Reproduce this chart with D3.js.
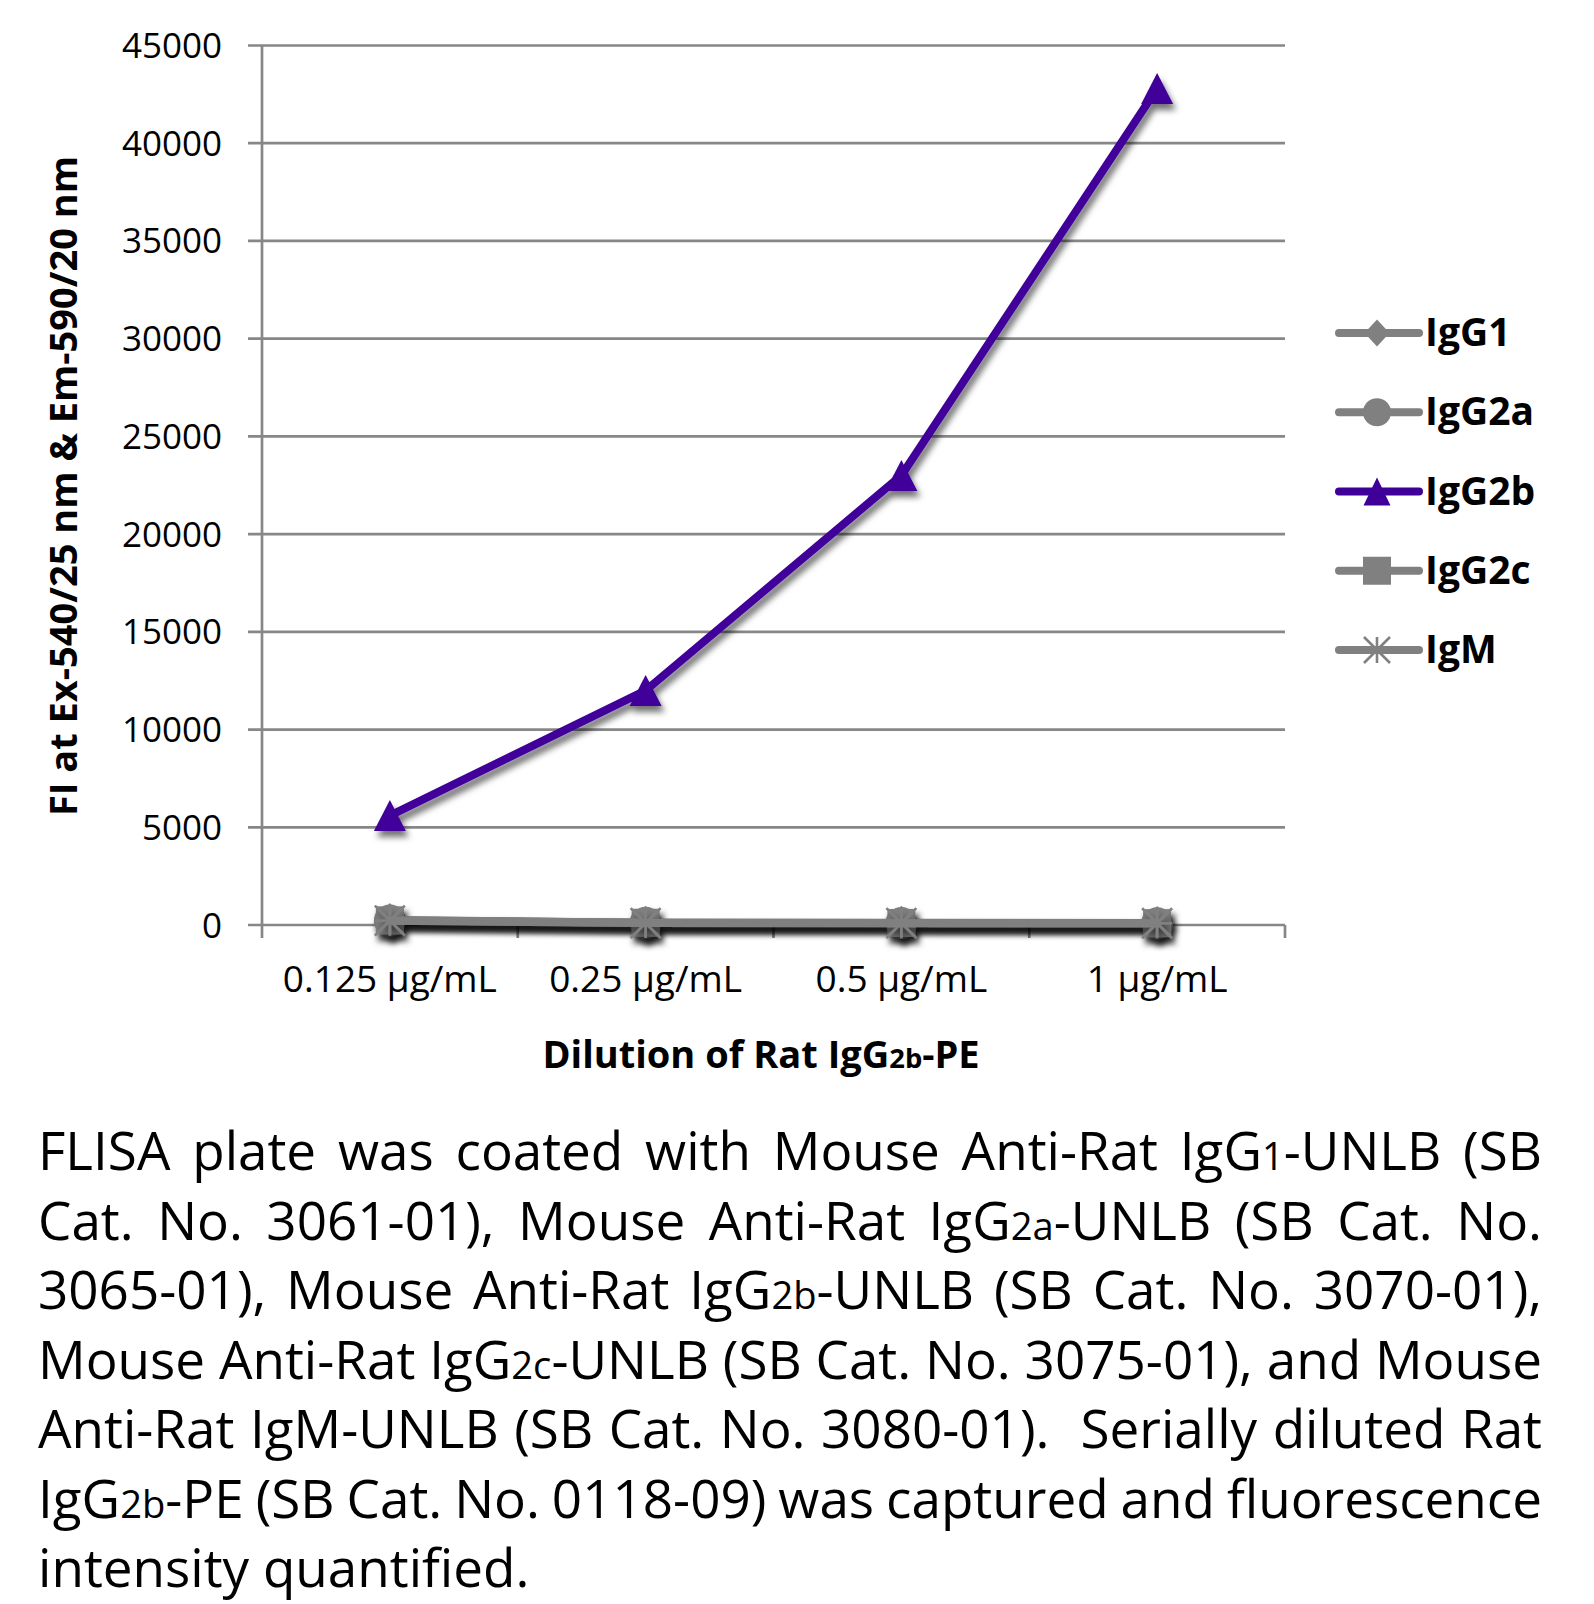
<!DOCTYPE html>
<html><head><meta charset="utf-8">
<script src="https://cdn.jsdelivr.net/npm/d3@7"></script>
<style>
html,body{margin:0;padding:0;background:#fff;}
svg{display:block;}
</style></head><body>
<svg id="chart" width="1594" height="1604"></svg>
<script>
// ---------- DATA ----------
const categories = ["0.125 µg/mL", "0.25 µg/mL", "0.5 µg/mL", "1 µg/mL"];
const seriesNames = ["IgG1", "IgG2a", "IgG2b", "IgG2c", "IgM"];
const valuesIgG1  = [250, 120, 110, 100];
const valuesIgG2a = [230, 110, 100, 90];
const valuesIgG2b = [5600, 12000, 23000, 42800];
const valuesIgG2c = [240, 115, 105, 95];
const valuesIgM   = [220, 100, 95, 90];
const yTicks = [0, 5000, 10000, 15000, 20000, 25000, 30000, 35000, 40000, 45000];
const yTitle = "FI at Ex-540/25 nm & Em-590/20 nm";
const xTitle = "Dilution of Rat IgG{2b}-PE";
const captionLines = [
  "FLISA plate was coated with Mouse Anti-Rat IgG{1}-UNLB (SB",
  "Cat. No. 3061-01), Mouse Anti-Rat IgG{2a}-UNLB (SB Cat. No.",
  "3065-01), Mouse Anti-Rat IgG{2b}-UNLB (SB Cat. No. 3070-01),",
  "Mouse Anti-Rat IgG{2c}-UNLB (SB Cat. No. 3075-01), and Mouse",
  "Anti-Rat IgM-UNLB (SB Cat. No. 3080-01).  Serially diluted Rat",
  "IgG{2b}-PE (SB Cat. No. 0118-09) was captured and fluorescence",
  "intensity quantified."
];

// ---------- STYLE / LAYOUT ----------
const FONT = "'Open Sans', 'Noto Sans', sans-serif";
const GRAY = "#808080";
const PURPLE = "#3f0099";
const AXIS = "#878787";
const series = [
  {name: seriesNames[0], values: valuesIgG1,  color: GRAY,   marker: "diamond"},
  {name: seriesNames[1], values: valuesIgG2a, color: GRAY,   marker: "circle"},
  {name: seriesNames[2], values: valuesIgG2b, color: PURPLE, marker: "triangle"},
  {name: seriesNames[3], values: valuesIgG2c, color: GRAY,   marker: "square"},
  {name: seriesNames[4], values: valuesIgM,   color: GRAY,   marker: "star"}
];

const plot = {left: 262, right: 1285, top: 45.5, bottom: 925};
const svg = d3.select("#chart");

const x = d3.scaleBand().domain(categories).range([plot.left, plot.right]).paddingInner(0).paddingOuter(0);
const y = d3.scaleLinear().domain([0, 45000]).range([plot.bottom, plot.top]);
const cx = c => x(c) + x.bandwidth() / 2;

function segs(str) {
  const out = []; const re = /\{([^}]*)\}/g; let last = 0, m;
  while ((m = re.exec(str))) {
    if (m.index > last) out.push([str.slice(last, m.index), false]);
    out.push([m[1], true]); last = re.lastIndex;
  }
  if (last < str.length) out.push([str.slice(last), false]);
  return out;
}
function fillText(t, str, size) {
  segs(str).forEach(([s, sm]) => {
    const ts = t.append("tspan").text(s);
    if (sm) ts.attr("font-size", size * 0.72);
  });
}

// marker path generators
function markerPath(type, s) {
  const p = d3.path();
  if (type === "diamond") {
    p.moveTo(0, -s.dh); p.lineTo(s.dw, 0); p.lineTo(0, s.dh); p.lineTo(-s.dw, 0); p.closePath();
  } else if (type === "circle") {
    p.moveTo(s.r, 0); p.arc(0, 0, s.r, 0, 2 * Math.PI); p.closePath();
  } else if (type === "triangle") {
    p.moveTo(0, -s.th / 2); p.lineTo(s.tw / 2, s.th / 2); p.lineTo(-s.tw / 2, s.th / 2); p.closePath();
  } else if (type === "square") {
    const h = s.sq / 2;
    p.rect(-h, -h, s.sq, s.sq);
  } else if (type === "star") {
    const h = s.st;
    p.moveTo(0, -h); p.lineTo(0, h);
    p.moveTo(-h, 0); p.lineTo(h, 0);
    p.moveTo(-h, -h); p.lineTo(h, h);
    p.moveTo(-h, h); p.lineTo(h, -h);
  }
  return p.toString();
}
const plotMarker = {dw: 16, dh: 17, r: 16, tw: 32, th: 31, sq: 28, st: 15};
const legendMarker = {dw: 12.5, dh: 13.5, r: 14, tw: 27, th: 28, sq: 28, st: 13};

function drawMarker(g, type, color, sizes, px, py) {
  const path = g.append("path").attr("d", markerPath(type, sizes))
    .attr("transform", `translate(${px},${py})`);
  if (type === "star") path.attr("fill", "none").attr("stroke", color).attr("stroke-width", 2.6);
  else path.attr("fill", color);
}

// ---------- DEFS ----------
const defs = svg.append("defs");
const filt = defs.append("filter").attr("id", "shadow")
  .attr("filterUnits", "userSpaceOnUse").attr("x", 0).attr("y", 0).attr("width", 1594).attr("height", 1604);
filt.append("feDropShadow").attr("dx", 3).attr("dy", 6).attr("stdDeviation", 3.2)
  .attr("flood-color", "#000").attr("flood-opacity", 0.55);

// ---------- GRID & AXES ----------
svg.append("g").selectAll("line").data(yTicks).join("line")
  .attr("x1", plot.left - 14).attr("x2", plot.right)
  .attr("y1", d => y(d)).attr("y2", d => y(d))
  .attr("stroke", AXIS).attr("stroke-width", 2.7);

svg.append("line").attr("x1", plot.left).attr("x2", plot.left)
  .attr("y1", y(45000)).attr("y2", y(0))
  .attr("stroke", AXIS).attr("stroke-width", 2.7);

const xTickPos = categories.map(c => x(c)).concat([x.range()[1]]);
svg.append("g").selectAll("line").data(xTickPos).join("line")
  .attr("x1", d => d).attr("x2", d => d)
  .attr("y1", y(0)).attr("y2", y(0) + 13)
  .attr("stroke", AXIS).attr("stroke-width", 2.7);

svg.append("g").selectAll("text").data(yTicks).join("text")
  .attr("x", 222).attr("y", d => y(d) + 12.5)
  .attr("text-anchor", "end")
  .attr("font-family", FONT).attr("font-size", 35)
  .attr("fill", "#000").text(d => d);

svg.append("g").selectAll("text").data(categories).join("text")
  .attr("x", d => cx(d)).attr("y", 992)
  .attr("text-anchor", "middle")
  .attr("font-family", FONT).attr("font-size", 37)
  .attr("fill", "#000").text(d => d);

// axis titles
svg.append("text")
  .attr("transform", "translate(77,486) rotate(-90)")
  .attr("text-anchor", "middle")
  .attr("font-family", FONT).attr("font-weight", 700).attr("font-size", 38)
  .attr("fill", "#000").text(yTitle);

const xt = svg.append("text").attr("x", 761).attr("y", 1068)
  .attr("text-anchor", "middle")
  .attr("font-family", FONT).attr("font-weight", 700).attr("font-size", 38).attr("fill", "#000");
fillText(xt, xTitle, 38);

// ---------- SERIES ----------
const line = d3.line().x((d, i) => cx(categories[i])).y(d => y(d));
series.forEach(s => {
  const g = svg.append("g").attr("filter", "url(#shadow)");
  g.append("path").attr("d", line(s.values))
    .attr("fill", "none").attr("stroke", s.color).attr("stroke-width", 8)
    .attr("stroke-linejoin", "round").attr("stroke-linecap", "round");
  s.values.forEach((v, i) => drawMarker(g, s.marker, s.color, plotMarker, cx(categories[i]), y(v)));
});

// ---------- LEGEND ----------
series.forEach((s, i) => {
  const ly = 333 + i * 79.25;
  const g = svg.append("g");
  g.append("line").attr("x1", 1339).attr("x2", 1419).attr("y1", ly).attr("y2", ly)
    .attr("stroke", s.color).attr("stroke-width", 8).attr("stroke-linecap", "round");
  drawMarker(g, s.marker, s.color, legendMarker, 1377, ly);
  g.append("text").attr("x", 1425).attr("y", ly + 13)
    .attr("font-family", FONT).attr("font-weight", 700).attr("font-size", 39)
    .attr("fill", "#000").text(s.name);
});

// ---------- CAPTION (justified) ----------
const capLeft = 38, capRight = 1542, capSize = 53;
captionLines.forEach((ln, i) => {
  const by = 1170 + i * 69.5;
  const justify = i < captionLines.length - 1;
  const words = ln.split(" ");
  const g = svg.append("g");
  const nodes = words.map(w => {
    const t = g.append("text").attr("font-family", FONT).attr("font-size", capSize).attr("fill", "#000");
    fillText(t, w, capSize);
    return t;
  });
  const widths = nodes.map(t => t.node().getComputedTextLength());
  const total = d3.sum(widths);
  const n = words.length - 1;
  const minGap = 0.2 * capSize;
  const W = capRight - capLeft;
  let gap = justify ? (W - total) / n : 0.26 * capSize;
  let sc = 1;
  if (justify && gap < minGap) { sc = W / (total + n * minGap); gap = minGap * sc; }
  let px = capLeft;
  nodes.forEach((t, k) => {
    t.attr("transform", `translate(${px},${by}) scale(${sc},1)`);
    px += widths[k] * sc + gap;
  });
});
</script>
</body></html>
